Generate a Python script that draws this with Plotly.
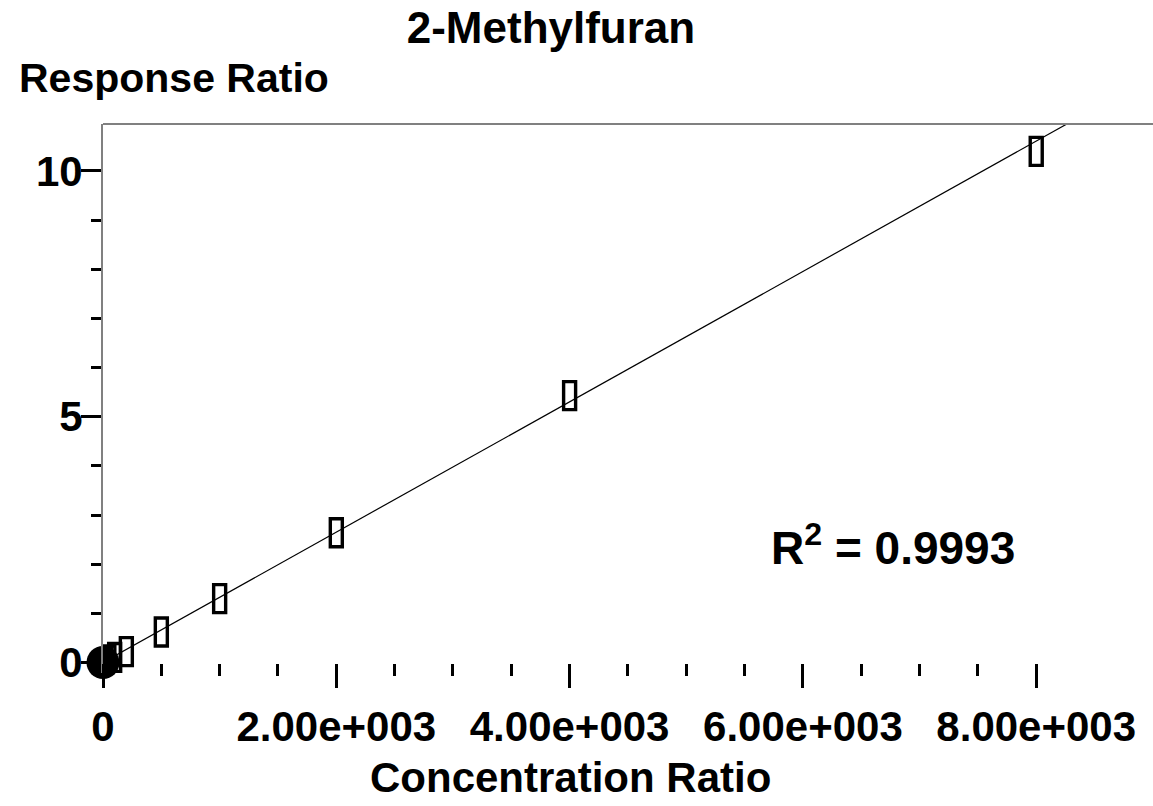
import plotly.graph_objects as go

# ---- data ----
conc_ratio = [8000, 4000, 2000, 1000, 500, 200, 100, 50, 20]
resp_ratio = [10.40, 5.43, 2.64, 1.30, 0.62, 0.22, 0.10, 0.05, 0.02]
blank_x = [0]
blank_y = [0]
fit_slope = 0.001326
fit_intercept = 0.0
x_tickvals = [0, 2000, 4000, 6000, 8000]
x_ticktext = ["0", "2.00e+003", "4.00e+003", "6.00e+003", "8.00e+003"]
x_minor_vals = [500, 1000, 1500, 2500, 3000, 3500, 4500, 5000, 5500,
                6500, 7000, 7500]
y_tickvals = [0, 5, 10]
y_ticktext = ["0", "5", "10"]
y_minor_vals = [1, 2, 3, 4, 6, 7, 8, 9]
title_text = "2-Methylfuran"
y_title = "Response Ratio"
x_title = "Concentration Ratio"
r2_text = "R<sup>2</sup> = 0.9993"

# ---- geometry ----
W, H = 1153, 806
ML, MR, MT, MB = 103, 0, 124, 133
PW, PH = W - ML - MR, H - MT - MB
x_range = [0, 9001]
y_range = [-0.214, 10.956]

def px_to_paper_x(px):
    return (px - ML) / PW

def py_to_paper_y(py):
    return (H - MB - py) / PH

FONT = "Liberation Sans, Arial, sans-serif"

fig = go.Figure()

# regression line
fit_x = [0, x_range[1]]
fit_y = [fit_intercept + fit_slope * v for v in fit_x]
fig.add_trace(go.Scatter(x=fit_x, y=fit_y, mode="lines",
                         line=dict(color="black", width=1.2),
                         hoverinfo="skip", showlegend=False))

# calibration points as tall open rectangles anchored at data values
for cx, cy in zip(conc_ratio, resp_ratio):
    fig.add_shape(type="rect", xref="x", yref="y",
                  xsizemode="pixel", ysizemode="pixel",
                  xanchor=cx, yanchor=cy,
                  x0=-6, x1=6, y0=-14, y1=14,
                  line=dict(color="black", width=3.4),
                  fillcolor="rgba(0,0,0,0)", layer="below")

# transparent trace for the points (hover)
fig.add_trace(go.Scatter(x=conc_ratio, y=resp_ratio, mode="markers",
                         marker=dict(size=14, color="rgba(0,0,0,0)"),
                         showlegend=False))

# blank at origin
fig.add_trace(go.Scatter(x=blank_x, y=blank_y, mode="markers",
                         marker=dict(size=33, color="black", symbol="circle"),
                         cliponaxis=False, showlegend=False, hoverinfo="skip"))

# top frame line
fig.add_shape(type="line", xref="paper", yref="paper", x0=0, x1=1, y0=1, y1=1,
              line=dict(color="#808080", width=2))

fig.update_layout(
    width=W, height=H,
    margin=dict(l=ML, r=MR, t=MT, b=MB, pad=0),
    paper_bgcolor="white", plot_bgcolor="white",
    showlegend=False,
    font=dict(family=FONT, color="black", size=40, weight="bold"),
    xaxis=dict(range=x_range, anchor="free", position=py_to_paper_y(662.5),
               showline=False, showgrid=False, zeroline=False,
               tickmode="array", tickvals=x_tickvals, ticktext=x_ticktext,
               ticks="outside", ticklen=24, tickwidth=2.5, tickcolor="black",
               tickfont=dict(family=FONT, size=42, color="black", weight="bold"),
               ticklabelstandoff=3,
               minor=dict(tickmode="array", tickvals=x_minor_vals,
                          ticks="outside", ticklen=12,
                          tickwidth=2.5, tickcolor="black")),
    yaxis=dict(range=y_range, showline=True, linecolor="#808080", linewidth=2,
               showgrid=False, zeroline=False,
               tickmode="array", tickvals=y_tickvals, ticktext=y_ticktext,
               ticks="outside", ticklen=20, tickwidth=3, tickcolor="black",
               tickfont=dict(family=FONT, size=42, color="black", weight="bold"),
               ticklabelstandoff=-10,
               minor=dict(tickmode="array", tickvals=y_minor_vals,
                          ticks="outside", ticklen=10,
                          tickwidth=3, tickcolor="black")),
    title=dict(text=title_text, x=551 / W, xanchor="center", xref="container",
               y=1 - 28 / H, yanchor="middle", yref="container",
               font=dict(family=FONT, size=44, color="black", weight="bold")),
    annotations=[
        dict(text=y_title, xref="paper", yref="paper",
             x=px_to_paper_x(17), y=py_to_paper_y(78),
             xanchor="left", yanchor="middle", showarrow=False,
             font=dict(family=FONT, size=41, color="black", weight="bold")),
        dict(text=x_title, xref="paper", yref="paper",
             x=px_to_paper_x(570), y=py_to_paper_y(777),
             xanchor="center", yanchor="middle", showarrow=False,
             font=dict(family=FONT, size=42, color="black", weight="bold")),
        dict(text=r2_text, xref="paper", yref="paper",
             x=px_to_paper_x(769), y=py_to_paper_y(545),
             xanchor="left", yanchor="middle", showarrow=False,
             font=dict(family=FONT, size=46, color="black", weight="bold")),
    ],
)

fig.write_html("out.html", config={"displayModeBar": False},
               post_script="document.body.style.margin='0';")
